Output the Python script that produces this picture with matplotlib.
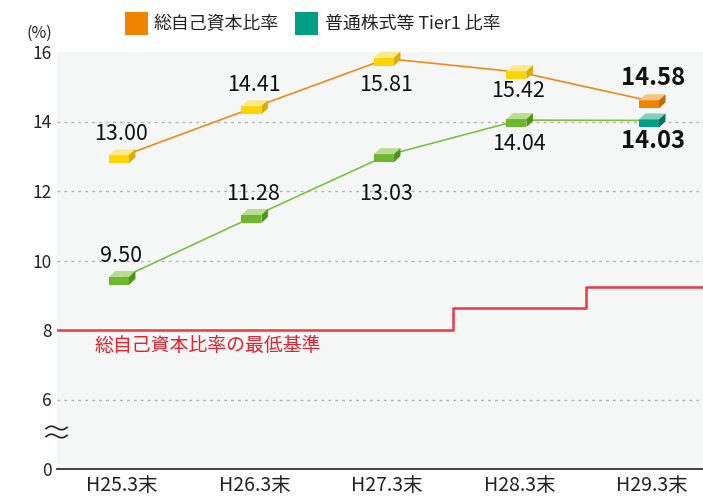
import numpy as np
import matplotlib
matplotlib.use("Agg")
import matplotlib.pyplot as plt
import matplotlib.transforms as mtransforms
from matplotlib.patches import Polygon, Rectangle
from matplotlib.lines import Line2D

plt.rcParams['font.family'] = ['Noto Sans CJK JP', 'DejaVu Sans']

# ---- data ----
categories = ['H25.3末', 'H26.3末', 'H27.3末', 'H28.3末', 'H29.3末']
total_ratio = [13.00, 14.41, 15.81, 15.42, 14.58]
cet1_ratio = [9.50, 11.28, 13.03, 14.04, 14.03]
min_standard = [8.0, 8.0, 8.0, 8.625, 9.25]
series_names = ['総自己資本比率', '普通株式等 Tier1 比率']
min_label = '総自己資本比率の最低基準'
ytick_pos = [4, 6, 8, 10, 12, 14, 16]
ytick_labels = ['0', '6', '8', '10', '12', '14', '16']
grid_levels = [6, 10, 12, 14]

# label offsets (pixels, + = above)
total_off = [22, 22, -26, -19, 23]
cet1_off = [22, 22, -39, -24, -21]

W, H = 703, 496
fig = plt.figure(figsize=(W / 100, H / 100), dpi=100)
ax = fig.add_axes([57 / W, 1 - 469 / H, 1 - 57 / W, (469 - 52) / H])
ax.set_facecolor('#f5f7f6')

x = np.arange(len(categories))
ax.set_xlim(-0.49, 4.385)
ax.set_ylim(4, 16)

for g in grid_levels:
    ax.axhline(g, color='#b4b4b4', lw=1.0, ls=(0, (2, 3)), zorder=1)

# minimum standard (step line)
xs = np.concatenate(([-1.0], x, [5.0]))
ys = np.concatenate(([min_standard[0]], min_standard, [min_standard[-1]]))
ax.step(xs, ys, where='mid', color='#e8394a', lw=1.8, zorder=2)
ax.text(-0.205, 7.55, min_label, color='#e8202e', fontsize=13.6,
        ha='left', va='center', zorder=3)

ax.plot(x, total_ratio, color='#f08a1c', lw=1.2, zorder=3)
ax.plot(x, cet1_ratio, color='#7cc142', lw=1.2, zorder=3)


def box(xv, yv, front, top, side):
    tr = mtransforms.ScaledTranslation(xv, yv, ax.transData)
    f = [(-13, -7), (7, -7), (7, 1), (-13, 1)]
    t = [(-13, 1), (7, 1), (13.5, 7), (-6.5, 7)]
    s = [(7, -7), (13.5, -1), (13.5, 7), (7, 1)]
    for verts, c in ((f, front), (t, top), (s, side)):
        ax.add_patch(Polygon(verts, closed=True, facecolor=c, edgecolor='none',
                             transform=tr, zorder=5, clip_on=False))


yellow = ('#ffd400', '#ffe88a', '#d9ae00')
orange = ('#f08300', '#f8c27f', '#c46a00')
green = ('#6db82c', '#b8dc94', '#4f951a')
teal = ('#009e84', '#80cfbf', '#00735c')

for i in range(len(x)):
    last = i == len(x) - 1
    box(x[i], total_ratio[i], *(orange if last else yellow))
    box(x[i], cet1_ratio[i], *(teal if last else green))
    for vals, offs in ((total_ratio, total_off), (cet1_ratio, cet1_off)):
        ax.annotate(f'{vals[i]:.2f}', (x[i], vals[i]), xytext=(-1 if not last else 1, offs[i]),
                    textcoords='offset pixels', ha='center', va='center',
                    fontsize=17.2 if last else 15.5,
                    fontweight='bold' if last else 'normal',
                    color='#111111', zorder=6)

ax.set_xticks(x)
ax.set_xticklabels(categories, fontsize=14, color='#222222')
ax.set_yticks(ytick_pos)
ax.set_yticklabels(ytick_labels, fontsize=12.5, color='#222222')
ax.tick_params(axis='both', length=0)
ax.tick_params(axis='y', pad=4)
ax.tick_params(axis='x', pad=4)
for sp in ['left', 'right', 'top']:
    ax.spines[sp].set_visible(False)
ax.spines['bottom'].set_color('#333333')
ax.spines['bottom'].set_linewidth(1.3)

# (%) unit
fig.text(39 / W, 1 - 33 / H, '(%)', fontsize=11.5, ha='center', va='center', color='#222222')

# axis break symbol
t = np.linspace(-np.pi * 0.9, np.pi * 0.9, 40)
for dy in (428, 436):
    bx = 46 + (t + np.pi * 0.9) / (1.8 * np.pi) * 21
    by = dy + 2.4 * np.sin(t) - (t / np.pi) * 1.5
    fig.add_artist(Line2D(bx / W, 1 - by / H, color='#222222', lw=1.2))

# legend
leg_colors = ['#f08300', '#009e84']
leg_sq_x = [125, 295]
leg_txt_x = [154, 325]
for c, sx, tx, name in zip(leg_colors, leg_sq_x, leg_txt_x, series_names):
    fig.add_artist(Rectangle((sx / W, 1 - 35 / H), 22.5 / W, 22.5 / H,
                             transform=fig.transFigure, facecolor=c, edgecolor='none'))
    fig.text(tx / W, 1 - 24 / H, name, fontsize=12.9, ha='left', va='center', color='#222222')

fig.savefig('out.png', dpi=100)
